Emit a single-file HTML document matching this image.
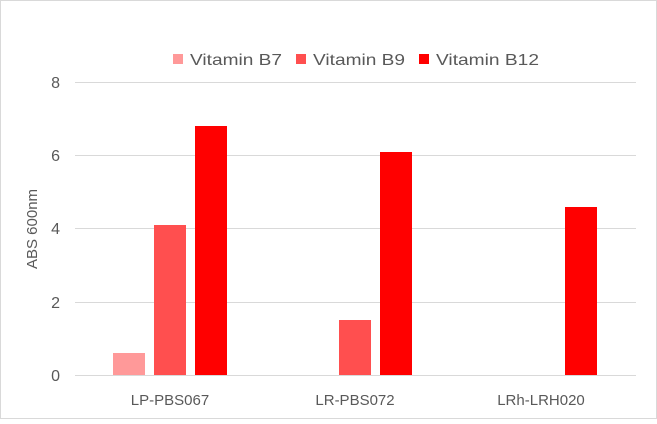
<!DOCTYPE html>
<html><head><style>body{margin:0;background:#fff}</style></head><body>
<svg width="657" height="419" xmlns="http://www.w3.org/2000/svg" font-family="Liberation Sans, sans-serif" fill="#595959">
<rect x="0.5" y="0.5" width="656" height="418" fill="#fff" stroke="#d9d9d9"/>
<g stroke="#d9d9d9" stroke-width="1">
<line x1="75" x2="636" y1="82.5" y2="82.5"/>
<line x1="75" x2="636" y1="155.5" y2="155.5"/>
<line x1="75" x2="636" y1="228.5" y2="228.5"/>
<line x1="75" x2="636" y1="302.5" y2="302.5"/>
<line x1="75" x2="636" y1="375.5" y2="375.5"/>
</g>
<g font-size="16" text-anchor="end">
<text x="60" y="88">8</text><text x="60" y="161">6</text><text x="60" y="234">4</text><text x="60" y="308">2</text><text x="60" y="381">0</text>
</g>
<text transform="translate(37,229) rotate(-90)" font-size="15" text-anchor="middle">ABS 600nm</text>
<rect x="113" y="353" width="32" height="22" fill="#ff9999"/>
<rect x="154" y="225" width="32" height="150" fill="#ff4f4f"/>
<rect x="195" y="126" width="32" height="249" fill="#ff0000"/>
<rect x="339" y="320" width="32" height="55" fill="#ff4f4f"/>
<rect x="380" y="152" width="32" height="223" fill="#ff0000"/>
<rect x="565" y="207" width="32" height="168" fill="#ff0000"/>
<g font-size="15" text-anchor="middle">
<text x="170" y="405">LP-PBS067</text><text x="355" y="405">LR-PBS072</text><text x="541" y="405">LRh-LRH020</text>
</g>
<g font-size="16">
<rect x="173" y="54" width="10" height="10" fill="#ff9999"/><text x="190" y="65" textLength="92" lengthAdjust="spacingAndGlyphs">Vitamin B7</text>
<rect x="296" y="54" width="10" height="10" fill="#ff4f4f"/><text x="313" y="65" textLength="92" lengthAdjust="spacingAndGlyphs">Vitamin B9</text>
<rect x="419" y="54" width="10" height="10" fill="#ff0000"/><text x="436" y="65" textLength="103" lengthAdjust="spacingAndGlyphs">Vitamin B12</text>
</g>
</svg>
</body></html>
